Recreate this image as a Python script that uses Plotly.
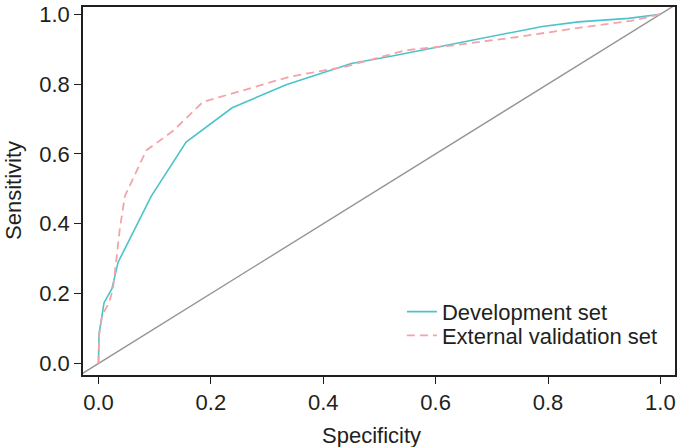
import plotly.graph_objects as go

# Development set ROC points (x = Specificity axis value, y = Sensitivity)
dev_x = [0, 0.001, 0.010, 0.024, 0.035, 0.094, 0.156, 0.238, 0.334, 0.450,
         0.525, 0.623, 0.712, 0.790, 0.854, 0.943, 1.0]
dev_y = [0, 0.085, 0.174, 0.214, 0.290, 0.479, 0.634, 0.732, 0.798, 0.859,
         0.881, 0.912, 0.941, 0.965, 0.978, 0.988, 1.0]

# External validation set ROC points
ext_x = [0, 0.0015, 0.007, 0.019, 0.026, 0.032, 0.038, 0.047, 0.085, 0.133,
         0.162, 0.186, 0.251, 0.340, 0.440, 0.547, 0.623, 0.742, 0.860, 0.948, 1.0]
ext_y = [0, 0.085, 0.140, 0.174, 0.215, 0.300, 0.385, 0.479, 0.610, 0.666,
         0.713, 0.749, 0.779, 0.821, 0.850, 0.897, 0.909, 0.934, 0.962, 0.981, 1.0]

# Reference (chance) diagonal y = x
ref_x = [-0.1, 1.1]
ref_y = [-0.1, 1.1]

tick_vals = [0.0, 0.2, 0.4, 0.6, 0.8, 1.0]
tick_text = ["0.0", "0.2", "0.4", "0.6", "0.8", "1.0"]

FONT = "Liberation Sans, Arial, Helvetica, sans-serif"
TXT = "#231f20"
FS = 22

fig = go.Figure()
fig.add_trace(go.Scatter(x=ref_x, y=ref_y, mode="lines",
                         line=dict(color="#959595", width=1.4),
                         showlegend=False, hoverinfo="skip"))
fig.add_trace(go.Scatter(x=dev_x, y=dev_y, mode="lines", name="Development set",
                         line=dict(color="#4cc3ca", width=1.6), legend="legend"))
fig.add_trace(go.Scatter(x=ext_x, y=ext_y, mode="lines", name="External validation set",
                         line=dict(color="#f4a4a8", width=1.8, dash="8px,5px"),
                         legend="legend2"))

axis_common = dict(
    showline=True, linecolor=TXT, linewidth=1.6, mirror=True,
    ticks="outside", ticklen=7, tickwidth=1.4, tickcolor=TXT,
    tickvals=tick_vals, ticktext=tick_text,
    showgrid=False, zeroline=False,
    ticklabeloverflow="allow",
    tickfont=dict(family=FONT, size=FS, color=TXT),
)

leg_common = dict(xanchor="left", yanchor="middle",
                  bgcolor="rgba(0,0,0,0)", borderwidth=0,
                  font=dict(family=FONT, size=FS, color=TXT))

fig.update_layout(
    width=679, height=447,
    margin=dict(l=83, r=2, t=2, b=72),
    paper_bgcolor="white", plot_bgcolor="white",
    xaxis=dict(range=[-0.0275, 1.026], **axis_common),
    yaxis=dict(range=[-0.033, 1.0206], **axis_common),
    showlegend=True,
    legend=dict(x=0.5387, y=0.1716, **leg_common),
    legend2=dict(x=0.5387, y=0.1072, **leg_common),
    annotations=[
        dict(text="Specificity", xref="paper", yref="paper", x=0.4865, y=0,
             yshift=-60, xanchor="center", yanchor="middle", showarrow=False,
             font=dict(family=FONT, size=FS, color=TXT)),
        dict(text="Sensitivity", xref="paper", yref="paper", x=0, y=0.5,
             xshift=-70, textangle=-90, xanchor="center", yanchor="middle",
             showarrow=False, font=dict(family=FONT, size=FS, color=TXT)),
    ],
)

fig.write_html("out.html", config={"displayModeBar": False},
               post_script="document.body.style.margin='0';document.body.style.overflow='hidden';")
